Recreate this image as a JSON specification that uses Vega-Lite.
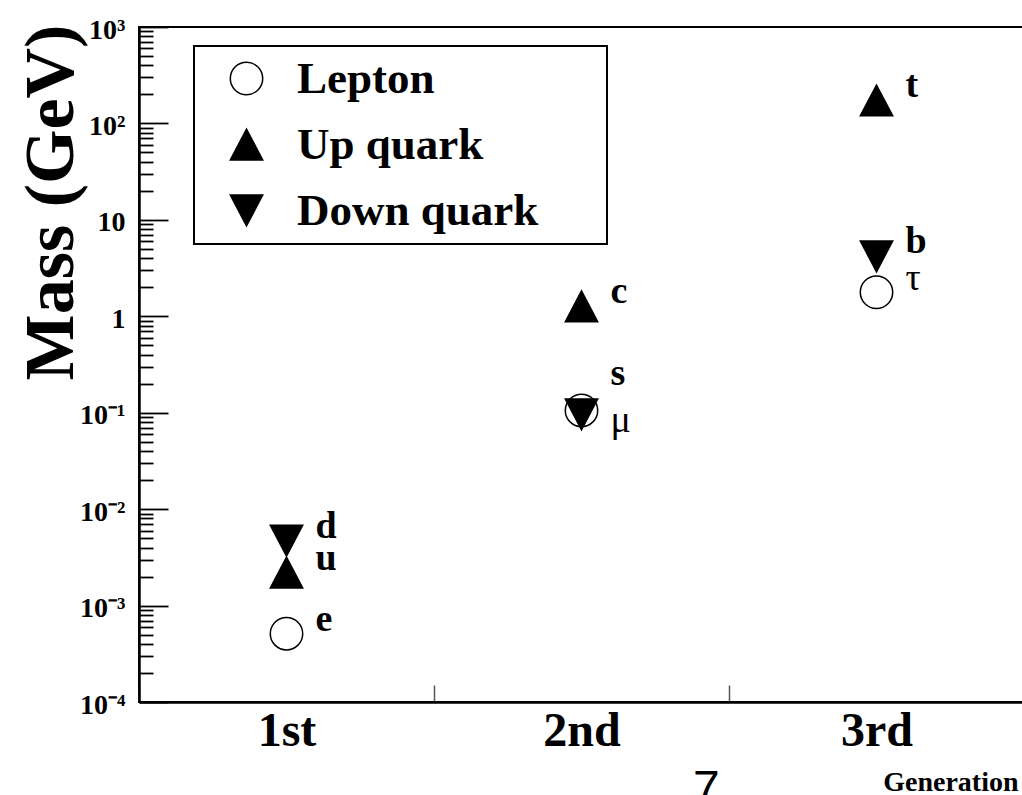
{
  "$schema": "https://vega.github.io/schema/vega-lite/v6.json",
  "width": 885,
  "height": 675,
  "autosize": {"type": "none"},
  "padding": {"left": 139, "top": 27, "right": 0, "bottom": 93},
  "background": "white",
  "title": {"text": "7", "orient": "top", "anchor": "start", "frame": "group", "dx": 554, "dy": 840, "baseline": "alphabetic", "font": "Liberation Sans", "fontSize": 48, "fontWeight": "normal", "color": "black"},
  "data": {
    "values": [
      {"generation": "1st", "type": "Lepton", "name": "e", "mass": 0.000511},
      {"generation": "1st", "type": "Up quark", "name": "u", "mass": 0.0022},
      {"generation": "1st", "type": "Down quark", "name": "d", "mass": 0.0047},
      {"generation": "2nd", "type": "Lepton", "name": "μ", "mass": 0.1057},
      {"generation": "2nd", "type": "Up quark", "name": "c", "mass": 1.27},
      {"generation": "2nd", "type": "Down quark", "name": "s", "mass": 0.096},
      {"generation": "3rd", "type": "Lepton", "name": "τ", "mass": 1.777},
      {"generation": "3rd", "type": "Up quark", "name": "t", "mass": 173},
      {"generation": "3rd", "type": "Down quark", "name": "b", "mass": 4.18}
    ]
  },
  "encoding": {
    "x": {
      "field": "generation", "type": "nominal",
      "scale": {"type": "band", "domain": ["1st", "2nd", "3rd"], "paddingInner": 0, "paddingOuter": 0},
      "axis": {
        "title": "Generation", "tickBand": "extent", "tickSize": -17, "tickColor": "#555", "tickWidth": 1.5,
        "domainColor": "black", "domainWidth": 2.5, "grid": false,
        "labelFont": "Liberation Serif", "labelFontWeight": "bold", "labelFontSize": 48, "labelColor": "black",
        "labelBaseline": "alphabetic", "labelPadding": 60, "labelAngle": 0,
        "titleFont": "Liberation Serif", "titleFontWeight": "bold", "titleFontSize": 28, "titleColor": "black",
        "titleX": 879, "titleY": 88, "titleAlign": "right", "titleBaseline": "alphabetic"
      }
    },
    "y": {
      "field": "mass", "type": "quantitative",
      "scale": {"type": "log", "domain": [0.0001, 1000]},
      "axis": {
        "title": "Mass (GeV)",
        "values": [0.0001,0.0002,0.0003,0.0004,0.0005,0.0006,0.0007,0.0008,0.0009,0.001,0.002,0.003,0.004,0.005,0.006,0.007,0.008,0.009,0.01,0.02,0.03,0.04,0.05,0.06,0.07,0.08,0.09,0.1,0.2,0.3,0.4,0.5,0.6,0.7,0.8,0.9,1,2,3,4,5,6,7,8,9,10,20,30,40,50,60,70,80,90,100,200,300,400,500,600,700,800,900,1000],
        "tickSize": {"condition": {"test": "indexof([0.0001,0.001,0.01,0.1,1,10,100,1000], datum.value) >= 0", "value": -29}, "value": -14},
        "tickColor": "black", "tickWidth": 1.8,
        "domainColor": "black", "domainWidth": 2.5, "grid": false,
        "labelExpr": "datum.value == 1000 ? '10³' : datum.value == 100 ? '10²' : datum.value == 10 ? '10' : datum.value == 1 ? '1' : datum.value == 0.1 ? '10⁻¹' : datum.value == 0.01 ? '10⁻²' : datum.value == 0.001 ? '10⁻³' : datum.value == 0.0001 ? '10⁻⁴' : ''",
        "labelFont": "Liberation Serif", "labelFontWeight": "bold", "labelFontSize": 28, "labelColor": "black",
        "labelPadding": 43, "labelOffset": 3, "labelOverlap": false, "labelFlush": false,
        "titleFont": "Liberation Serif", "titleFontWeight": "bold", "titleFontSize": 70, "titleColor": "black",
        "titleX": -67, "titleY": 175, "titleAlign": "center", "titleBaseline": "alphabetic", "titleAngle": -90
      }
    }
  },
  "layer": [
    {
      "mark": {"type": "point", "filled": true, "size": 1050, "strokeWidth": 1.5, "opacity": 1},
      "encoding": {
        "shape": {"field": "type", "type": "nominal", "title": ".", "scale": {"domain": ["Lepton", "Up quark", "Down quark"], "range": ["circle", "M0,-0.95L1,0.95L-1,0.95Z", "M-1,-0.95L1,-0.95L0,0.95Z"]},
          "legend": {"symbolOffset": 20, "labelOffset": 28}},
        "fill": {"field": "type", "type": "nominal", "title": ".", "scale": {"domain": ["Lepton", "Up quark", "Down quark"], "range": ["transparent", "black", "black"]},
          "legend": {"symbolOffset": 20, "labelOffset": 28}},
        "stroke": {"field": "type", "type": "nominal", "title": ".", "scale": {"domain": ["Lepton", "Up quark", "Down quark"], "range": ["black", "black", "black"]},
          "legend": {"symbolOffset": 20, "labelOffset": 28}}
      }
    },
    {
      "transform": [{"filter": {"field": "name", "oneOf": ["e", "u", "d", "c", "t", "b"]}}],
      "mark": {"type": "text", "align": "left", "baseline": "alphabetic", "dx": 29, "dy": -3, "font": "Liberation Serif", "fontWeight": "bold", "fontSize": 38, "color": "black"},
      "encoding": {"text": {"field": "name"}}
    },
    {
      "transform": [{"filter": {"field": "name", "equal": "s"}}],
      "mark": {"type": "text", "align": "left", "baseline": "alphabetic", "dx": 29, "dy": -29, "font": "Liberation Serif", "fontWeight": "bold", "fontSize": 38, "color": "black"},
      "encoding": {"text": {"field": "name"}}
    },
    {
      "transform": [{"filter": {"field": "name", "equal": "τ"}}],
      "mark": {"type": "text", "align": "left", "baseline": "alphabetic", "dx": 29, "dy": -2, "font": "Liberation Serif", "fontWeight": "normal", "fontSize": 38, "color": "black"},
      "encoding": {"text": {"field": "name"}}
    },
    {
      "transform": [{"filter": {"field": "name", "equal": "μ"}}],
      "mark": {"type": "text", "align": "left", "baseline": "alphabetic", "dx": 29, "dy": 22, "font": "Liberation Serif", "fontWeight": "normal", "fontSize": 38, "color": "black"},
      "encoding": {"text": {"field": "name"}}
    }
  ],
  "config": {
    "view": {"stroke": "black", "strokeWidth": 2},
    "legend": {
      "orient": "none", "legendX": 55, "legendY": 19, "padding": 10,
      "strokeColor": "black", "strokeWidth": 2, "fillColor": "white",
      "symbolSize": 1050, "symbolStrokeWidth": 1.5,
      "labelFont": "Liberation Serif", "labelFontWeight": "bold", "labelFontSize": 45, "labelColor": "black",
      "labelLimit": 1000, "rowPadding": 20,
      "titleOrient": "right", "titleColor": "white", "titleFontSize": 10, "titlePadding": 56
    }
  }
}
